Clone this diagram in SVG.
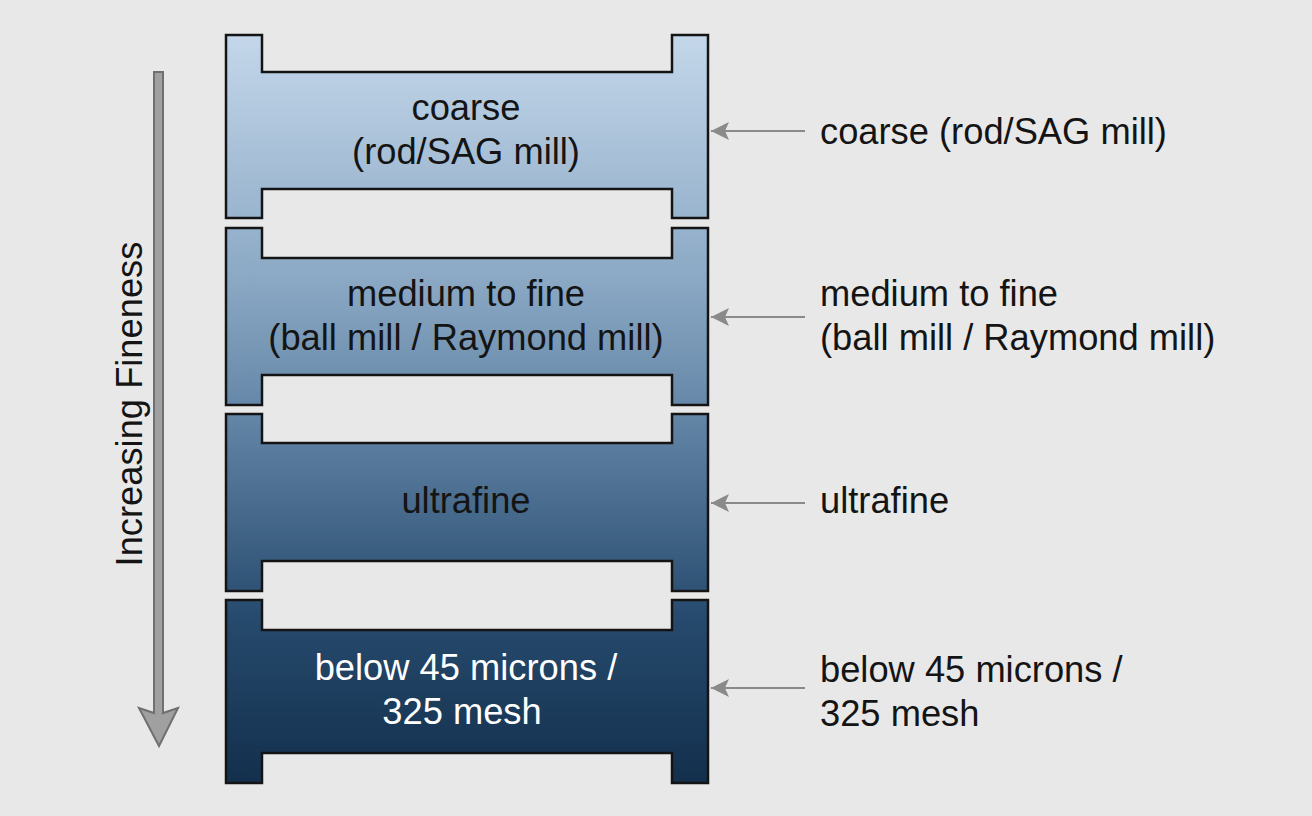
<svg xmlns="http://www.w3.org/2000/svg" width="1312" height="816" viewBox="0 0 1312 816">
<style>
.blk{stroke:#141414;stroke-width:2.5;stroke-linejoin:miter}
.t{font-family:"Liberation Sans",Arial,sans-serif;font-size:36.3px;fill:#141414}
.c{text-anchor:middle}
.w{fill:#ffffff}
.con{stroke:#8a8a8a;stroke-width:2;fill:none}
</style>
<defs>
<linearGradient id="g" gradientUnits="userSpaceOnUse" x1="0" y1="35" x2="0" y2="784">
<stop offset="0" stop-color="#c4d7ea"/>
<stop offset="0.33" stop-color="#8aa8c4"/>
<stop offset="0.55" stop-color="#5a7d9f"/>
<stop offset="0.78" stop-color="#264a6d"/>
<stop offset="1" stop-color="#132f4c"/>
</linearGradient>
<marker id="ah" markerWidth="20" markerHeight="20" refX="18" refY="9" orient="auto" markerUnits="userSpaceOnUse">
<path d="M0,0 L18,9 L0,18 L4,9 Z" fill="#8a8a8a"/>
</marker>
</defs>
<rect width="1312" height="816" fill="#e8e8e8"/>
<g id="fineness-axis">
<path d="M154,72 H163 V713 L178,708 L159,746 L139,708 L154,713 Z" fill="#a0a0a0" stroke="#707070" stroke-width="2"/>
<text class="t" transform="translate(142,404) rotate(-90)" text-anchor="middle">Increasing Fineness</text>
</g>
<g id="block-coarse">
<path class="blk" fill="url(#g)" d="M226,35 H262 V72 H672 V35 H708 V218 H672 V189 H262 V218 H226 Z"/>
<text class="t c" x="466" y="120">coarse</text>
<text class="t c" x="466" y="164">(rod/SAG mill)</text>
</g>
<g id="block-medium">
<path class="blk" fill="url(#g)" d="M226,228 H262 V258 H672 V228 H708 V405 H672 V375 H262 V405 H226 Z"/>
<text class="t c" x="466" y="306">medium to fine</text>
<text class="t c" x="466" y="350">(ball mill / Raymond mill)</text>
</g>
<g id="block-ultrafine">
<path class="blk" fill="url(#g)" d="M226,414 H262 V443 H672 V414 H708 V591 H672 V561 H262 V591 H226 Z"/>
<text class="t c" x="466" y="513">ultrafine</text>
</g>
<g id="block-325">
<path class="blk" fill="url(#g)" d="M226,600 H262 V630 H672 V600 H708 V783 H672 V753 H262 V783 H226 Z"/>
<text class="t c w" x="466" y="680">below 45 microns /</text>
<text class="t c w" x="462" y="724">325 mesh</text>
</g>
<g id="label-coarse">
<text class="t" x="820" y="144">coarse (rod/SAG mill)</text>
</g>
<g id="label-medium">
<text class="t" x="820" y="306">medium to fine</text>
<text class="t" x="820" y="350">(ball mill / Raymond mill)</text>
</g>
<g id="label-ultrafine">
<text class="t" x="820" y="513">ultrafine</text>
</g>
<g id="label-325">
<text class="t" x="820" y="682">below 45 microns /</text>
<text class="t" x="820" y="726">325 mesh</text>
</g>
<g id="connectors">
<line class="con" x1="805" y1="131" x2="711" y2="131" marker-end="url(#ah)"/>
<line class="con" x1="805" y1="317" x2="711" y2="317" marker-end="url(#ah)"/>
<line class="con" x1="805" y1="503" x2="711" y2="503" marker-end="url(#ah)"/>
<line class="con" x1="805" y1="688" x2="711" y2="688" marker-end="url(#ah)"/>
</g>
</svg>
